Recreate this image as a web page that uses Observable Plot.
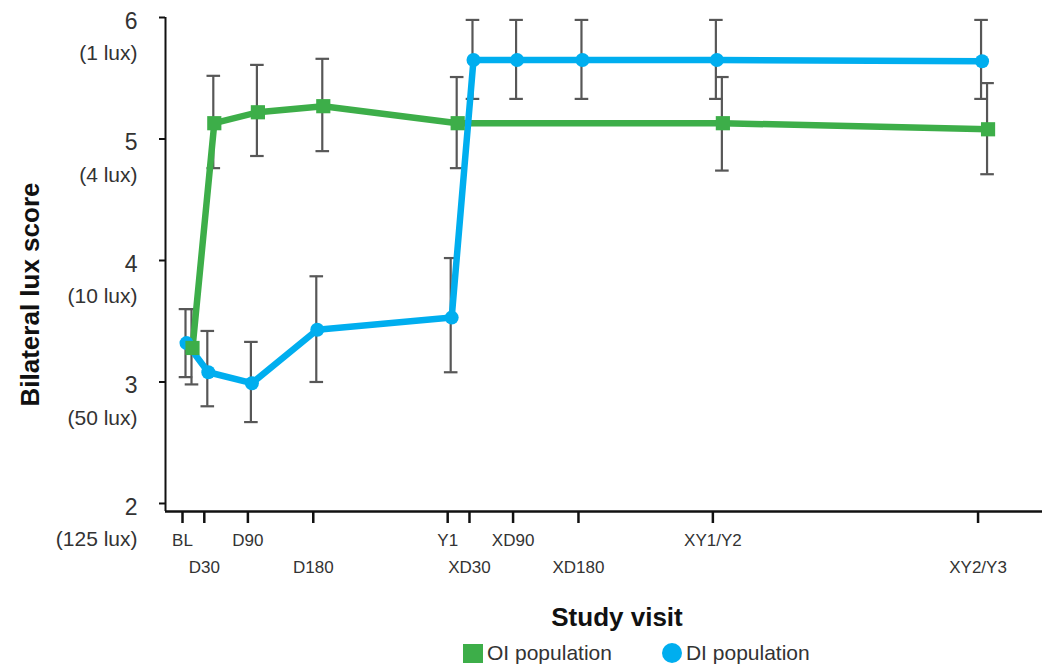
<!DOCTYPE html>
<html>
<head>
<meta charset="utf-8">
<script src="https://cdn.jsdelivr.net/npm/d3@7"></script>
<script src="https://cdn.jsdelivr.net/npm/@observablehq/plot@0.6"></script>
<style>
  html, body { margin: 0; padding: 0; background: #fff; }
  #page { position: relative; width: 1042px; height: 666px; font-family: "Liberation Sans", Arial, sans-serif; }
  #xtitle { position: absolute; left: 417px; width: 400px; top: 603px; text-align: center;
            font-size: 26px; font-weight: bold; color: #111; line-height: 28px; }
  #legend { position: absolute; left: 463px; top: 642px; display: flex; align-items: center;
            font-size: 21px; color: #333; line-height: 22px; }
  .sw-square { width: 20px; height: 19px; background: #3dae49; margin-right: 4px; }
  .sw-circle { width: 20px; height: 20px; border-radius: 50%; background: #00aeef; margin-left: 50px; margin-right: 4px; }
</style>
</head>
<body>
<div id="page">
  <div id="chart"></div>
  <div id="xtitle">Study visit</div>
  <div id="legend">
    <div class="sw-square"></div><span>OI population</span>
    <div class="sw-circle"></div><span>DI population</span>
  </div>
</div>
<script>
// Study visits and their day on the timeline
const visits    = ["BL", "D30", "D90", "D180", "Y1", "XD30", "XD90", "XD180", "XY1/Y2", "XY2/Y3"];
const visitDays = [0, 30, 90, 180, 365, 395, 455, 545, 730, 1095];

// DI population: mean bilateral lux score and error-bar limits at every visit
const diVisits = ["BL", "D30", "D90", "D180", "Y1", "XD30", "XD90", "XD180", "XY1/Y2", "XY2/Y3"];
const diMean   = [3.32, 3.08, 2.99, 3.43, 3.53, 5.65, 5.65, 5.65, 5.65, 5.64];
const diLow    = [3.04, 2.80, 2.67, 3.00, 3.08, 5.33, 5.33, 5.33, 5.33, 5.33];
const diHigh   = [3.60, 3.42, 3.33, 3.87, 4.02, 5.98, 5.98, 5.98, 5.98, 5.98];

// OI population
const oiVisits = ["BL", "D30", "D90", "D180", "Y1", "XY1/Y2", "XY2/Y3"];
const oiMean   = [3.28, 5.13, 5.22, 5.27, 5.13, 5.13, 5.08];
const oiLow    = [2.98, 4.76, 4.86, 4.90, 4.76, 4.74, 4.71];
const oiHigh   = [3.60, 5.52, 5.61, 5.66, 5.51, 5.51, 5.46];

// Y axis ticks: score with its lux equivalent
const yTicks = [2, 3, 4, 5, 6];
const yLux   = ["(125 lux)", "(50 lux)", "(10 lux)", "(4 lux)", "(1 lux)"];

const dayOf = v => visitDays[visits.indexOf(v)];
const diData = diVisits.map((v, i) => ({visit: v, day: dayOf(v), mean: diMean[i], low: diLow[i], high: diHigh[i]}));
const oiData = oiVisits.map((v, i) => ({visit: v, day: dayOf(v), mean: oiMean[i], low: oiLow[i], high: oiHigh[i]}));
const visitData = visits.map((v, i) => ({visit: v, day: visitDays[i], row: i % 2}));

const GREEN = "#3dae49";
const BLUE = "#00aeef";
const BAR = "#575757";

// Horizontal stroke used for the error-bar caps
const capSymbol = {
  draw(context, size) {
    const w = Math.sqrt(size / Math.PI);
    context.moveTo(-w, 0);
    context.lineTo(w, 0);
  }
};

const errorBars = (data, dx) => [
  Plot.ruleX(data, {x: "day", y1: "low", y2: "high", dx, stroke: BAR, strokeWidth: 2.2}),
  Plot.dot(data, {x: "day", y: "low", dx, symbol: capSymbol, r: 6.8, fill: "none", stroke: BAR, strokeWidth: 2.2}),
  Plot.dot(data, {x: "day", y: "high", dx, symbol: capSymbol, r: 6.8, fill: "none", stroke: BAR, strokeWidth: 2.2})
];

const chart = Plot.plot({
  width: 1042,
  height: 590,
  marginLeft: 165,
  marginRight: 0,
  marginTop: 17,
  marginBottom: 79,
  style: {fontFamily: "'Liberation Sans', Arial, sans-serif", background: "#fff"},
  x: {domain: [-23.4, 1183.7]},
  y: {domain: [1.934, 6]},
  marks: [
    Plot.axisY({ticks: yTicks, tickSize: 6, tickFormat: () => "", label: null, stroke: "#111", strokeWidth: 2}),
    Plot.axisX({ticks: visitDays, tickSize: 12, tickFormat: () => "", label: null, stroke: "#111", strokeWidth: 2.5}),
    Plot.ruleX([-23.4], {stroke: "#111", strokeWidth: 2}),
    Plot.ruleY([1.934], {stroke: "#111", strokeWidth: 2.5}),

    // y tick labels: score and lux equivalent
    Plot.text(yTicks, {y: d => d, text: d => String(d), frameAnchor: "left", textAnchor: "end",
                       lineAnchor: "middle", dx: -28, dy: 4, fontSize: 23, fill: "#333"}),
    Plot.text(yTicks, {y: d => d, text: (d, i) => yLux[i], frameAnchor: "left", textAnchor: "end",
                       lineAnchor: "middle", dx: -28, dy: 36, fontSize: 21, fill: "#333"}),

    // staggered visit labels
    Plot.text(visitData.filter(d => d.row === 0), {x: "day", text: "visit", frameAnchor: "bottom", lineAnchor: "middle",
                                                    dy: 29, fontSize: 17, fill: "#333"}),
    Plot.text(visitData.filter(d => d.row === 1), {x: "day", text: "visit", frameAnchor: "bottom", lineAnchor: "middle",
                                                    dy: 56, fontSize: 17, fill: "#333"}),

    // y axis title
    Plot.text(["Bilateral lux score"], {frameAnchor: "left", textAnchor: "middle", lineAnchor: "middle",
                                        dx: -135, dy: 30, rotate: -90,
                                        fontSize: 26, fontWeight: "bold", fill: "#111"}),

    ...errorBars(oiData, 9),
    ...errorBars(diData, 3),

    Plot.line(oiData, {x: "day", y: "mean", dx: 10, stroke: GREEN, strokeWidth: 6.5}),
    Plot.line(diData, {x: "day", y: "mean", dx: 4, stroke: BLUE, strokeWidth: 6.5}),
    Plot.dot(diData, {x: "day", y: "mean", dx: 4, symbol: "circle", r: 7, fill: BLUE}),
    Plot.dot(oiData, {x: "day", y: "mean", dx: 10, symbol: "square", r: 8, fill: GREEN})
  ]
});

document.getElementById("chart").appendChild(chart);
</script>
</body>
</html>
